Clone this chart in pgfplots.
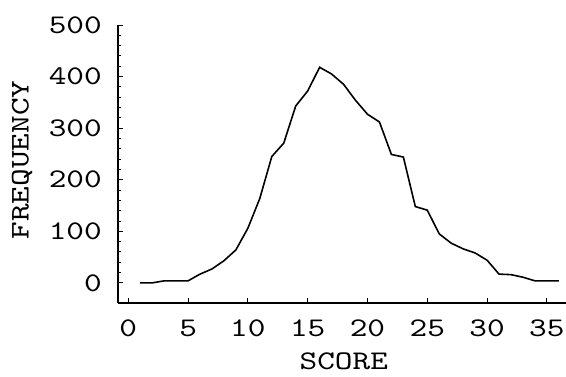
\documentclass[border=0pt]{standalone}
\usepackage{pgfplots}
\pgfplotsset{compat=1.18}
\usepackage{fontspec}
\setmainfont{lmmono10-regular.otf}[FakeStretch=1.25]
\begin{document}
\begin{tikzpicture}[x=1bp,y=1bp]
\useasboundingbox (-118,-73) rectangle (448,303);
\begin{axis}[
  at={(0,0)}, anchor=south west,
  scale only axis, width=448bp, height=278bp,
  xmin=-0.86, xmax=36.6, ymin=-39, ymax=500,
  axis lines=left,
  axis line style={-, line width=1.1bp},
  tick align=inside,
  major tick length=5bp, minor tick length=3bp,
  tick style={black, line width=0.9bp},
  xtick={0,5,...,35}, ytick={0,100,...,500},
  minor y tick num=4,
  font=\fontsize{27}{29}\selectfont,
  /pgf/number format/assume math mode=true,
  xticklabel style={anchor=center, inner sep=0pt, yshift=-25bp},
  yticklabel style={anchor=east, inner sep=0pt, xshift=-16bp},
  xlabel={SCORE}, ylabel={FREQUENCY},
  xlabel style={at={(axis description cs:0.504,-0.211)}, anchor=center, inner sep=0pt},
  ylabel style={at={(axis description cs:-0.214,0.514)}, anchor=center, inner sep=0pt},
]
\addplot[black, line width=1.6bp] table {
x y
1 0
2 0
3 4
4 4
5 4
6 17
7 27
8 43
9 64
10 106
11 164
12 245
13 271
14 343
15 372
16 418
17 405
18 385
19 354
20 327
21 312
22 249
23 244
24 148
25 141
26 95
27 77
28 66
29 58
30 44
31 17
32 16
33 11
34 4
35 4
36 4
};
\end{axis}
\end{tikzpicture}
\end{document}
